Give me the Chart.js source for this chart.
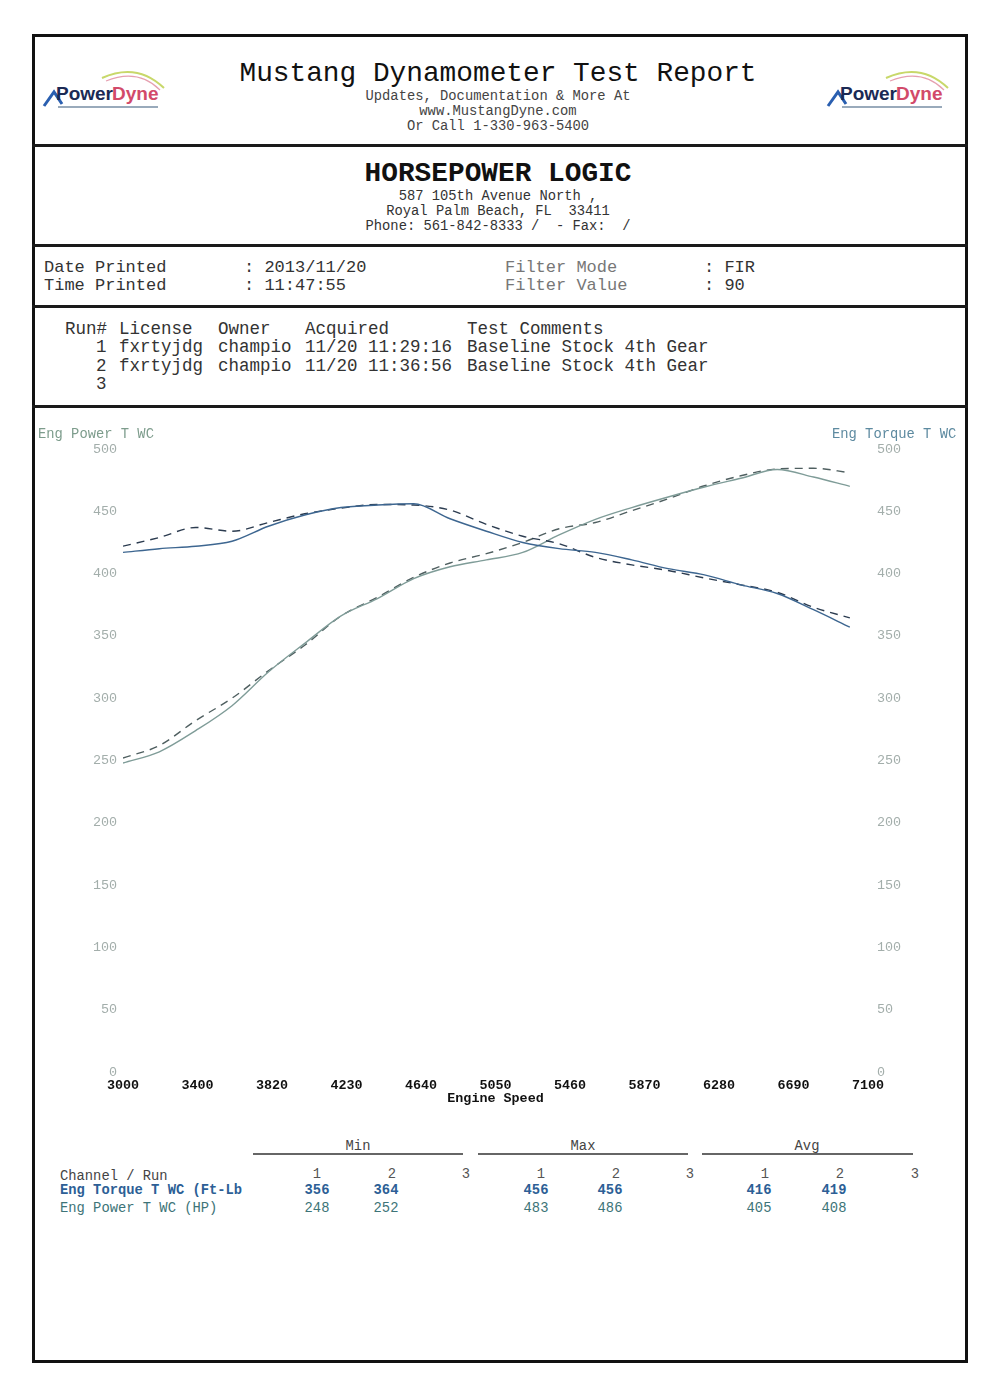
<!DOCTYPE html>
<html>
<head>
<meta charset="utf-8">
<script src="https://cdn.jsdelivr.net/npm/chart.js@4.4.0/dist/chart.umd.min.js"></script>
<style>
  body { margin: 0; background: #fff; }
  #page { position: relative; width: 1000px; height: 1381px; overflow: hidden;
    font-family: "Courier New", "Liberation Mono", monospace; color: #222; }
  .box { position: absolute; left: 32px; top: 34px; width: 930px; height: 1323px;
    border: 3px solid #111; }
  .sep { position: absolute; left: 32px; width: 936px; height: 3px; background: #1a1a1a; }
  .t { position: absolute; white-space: pre; }
  .c { transform: translateX(-50%); }
  .hline { position: absolute; height: 2px; background: #666; }
  #chartWrap { position: absolute; left: 35px; top: 408px; width: 930px; height: 722px; }
</style>
</head>
<body>
<div id="page">
  <div class="box"></div>
  <div class="sep" style="top:144px"></div>
  <div class="sep" style="top:244px"></div>
  <div class="sep" style="top:305px"></div>
  <div class="sep" style="top:405px"></div>

  <!-- logos -->
  <svg class="t" style="left:42px;top:66px" width="130" height="50" viewBox="0 0 130 50">
    <path d="M60 12 Q95 -4 122 22" stroke="#c8d86a" stroke-width="2" fill="none"/>
    <path d="M64 15 Q96 2 118 24" stroke="#e6a0b0" stroke-width="1.2" fill="none"/>
    <path d="M2 40 L12 26 L20 38" stroke="#2a5fb0" stroke-width="3" fill="none"/>
    <text x="14" y="34" font-family="Arial, Liberation Sans, sans-serif" font-weight="bold" font-size="19" fill="#1b2a55">Power</text>
    <text x="70" y="34" font-family="Arial, Liberation Sans, sans-serif" font-weight="bold" font-size="19" fill="#d24a6a">Dyne</text>
    <rect x="16" y="40" width="100" height="2" fill="#9ab"/>
  </svg>
  <svg class="t" style="left:826px;top:66px" width="130" height="50" viewBox="0 0 130 50">
    <path d="M60 12 Q95 -4 122 22" stroke="#c8d86a" stroke-width="2" fill="none"/>
    <path d="M64 15 Q96 2 118 24" stroke="#e6a0b0" stroke-width="1.2" fill="none"/>
    <path d="M2 40 L12 26 L20 38" stroke="#2a5fb0" stroke-width="3" fill="none"/>
    <text x="14" y="34" font-family="Arial, Liberation Sans, sans-serif" font-weight="bold" font-size="19" fill="#1b2a55">Power</text>
    <text x="70" y="34" font-family="Arial, Liberation Sans, sans-serif" font-weight="bold" font-size="19" fill="#d24a6a">Dyne</text>
    <rect x="16" y="40" width="100" height="2" fill="#9ab"/>
  </svg>

  <!-- header -->
  <div class="t c" style="left:498px;top:58px;font-size:27.8px;color:#111">Mustang Dynamometer Test Report</div>
  <div class="t c" style="left:498px;top:89px;font-size:13.8px;color:#444">Updates, Documentation &amp; More At</div>
  <div class="t c" style="left:498px;top:104px;font-size:13.8px;color:#444">www.MustangDyne.com</div>
  <div class="t c" style="left:498px;top:119px;font-size:13.8px;color:#444">Or Call 1-330-963-5400</div>

  <div class="t c" style="left:498px;top:158px;font-size:27.8px;font-weight:bold;color:#111">HORSEPOWER LOGIC</div>
  <div class="t c" style="left:498px;top:189px;font-size:13.8px;color:#333">587 105th Avenue North ,</div>
  <div class="t c" style="left:498px;top:204px;font-size:13.8px;color:#333">Royal Palm Beach, FL  33411</div>
  <div class="t c" style="left:498px;top:219px;font-size:13.8px;color:#333">Phone: 561-842-8333 /  - Fax:  /</div>

  <div class="t" style="left:44px;top:258px;font-size:17px;color:#333">Date Printed</div>
  <div class="t" style="left:44px;top:276px;font-size:17px;color:#333">Time Printed</div>
  <div class="t" style="left:244px;top:258px;font-size:17px;color:#333">: 2013/11/20</div>
  <div class="t" style="left:244px;top:276px;font-size:17px;color:#333">: 11:47:55</div>
  <div class="t" style="left:505px;top:258px;font-size:17px;color:#777">Filter Mode</div>
  <div class="t" style="left:505px;top:276px;font-size:17px;color:#777">Filter Value</div>
  <div class="t" style="left:704px;top:258px;font-size:17px;color:#333">: FIR</div>
  <div class="t" style="left:704px;top:276px;font-size:17px;color:#333">: 90</div>

  <div class="t" style="left:65px;top:319px;font-size:17.5px;color:#333">Run#</div>
  <div class="t" style="left:119px;top:319px;font-size:17.5px;color:#333">License</div>
  <div class="t" style="left:218px;top:319px;font-size:17.5px;color:#333">Owner</div>
  <div class="t" style="left:305px;top:319px;font-size:17.5px;color:#333">Acquired</div>
  <div class="t" style="left:467px;top:319px;font-size:17.5px;color:#333">Test Comments</div>
  <div class="t" style="left:96px;top:337px;font-size:17.5px;color:#333">1</div>
  <div class="t" style="left:119px;top:337px;font-size:17.5px;color:#333">fxrtyjdg</div>
  <div class="t" style="left:218px;top:337px;font-size:17.5px;color:#333">champio</div>
  <div class="t" style="left:305px;top:337px;font-size:17.5px;color:#333">11/20 11:29:16</div>
  <div class="t" style="left:467px;top:337px;font-size:17.5px;color:#333">Baseline Stock 4th Gear</div>
  <div class="t" style="left:96px;top:356px;font-size:17.5px;color:#333">2</div>
  <div class="t" style="left:119px;top:356px;font-size:17.5px;color:#333">fxrtyjdg</div>
  <div class="t" style="left:218px;top:356px;font-size:17.5px;color:#333">champio</div>
  <div class="t" style="left:305px;top:356px;font-size:17.5px;color:#333">11/20 11:36:56</div>
  <div class="t" style="left:467px;top:356px;font-size:17.5px;color:#333">Baseline Stock 4th Gear</div>
  <div class="t" style="left:96px;top:374px;font-size:17.5px;color:#333">3</div>

  <div id="chartWrap"><canvas id="dyno"></canvas></div>

  <div class="t" style="left:38px;top:427px;font-size:13.8px;color:#7d9c8c">Eng Power T WC</div>
  <div class="t" style="left:832px;top:427px;font-size:13.8px;color:#5d8aa0">Eng Torque T WC</div>

  <!-- stats table -->
  <div class="t c" style="left:358px;top:1139px;font-size:13.8px;color:#444">Min</div>
  <div class="t c" style="left:583px;top:1139px;font-size:13.8px;color:#444">Max</div>
  <div class="t c" style="left:807px;top:1139px;font-size:13.8px;color:#444">Avg</div>
  <div class="hline" style="left:253px;top:1153px;width:210px"></div>
  <div class="hline" style="left:478px;top:1153px;width:210px"></div>
  <div class="hline" style="left:702px;top:1153px;width:211px"></div>
  <div id="stats"></div>
</div>

<script>
// engine speed (rpm) sample points
const rpm = [3000, 3200, 3400, 3600, 3800, 4000, 4200, 4400, 4600, 4800, 5000,
  5200, 5400, 5600, 5800, 6000, 6200, 6400, 6600, 6800, 7000];

// run 1 (solid) and run 2 (dashed)
const torqueRun1 = [417, 420, 422, 426, 438, 447, 453, 455, 456, 444, 434,
  425, 420, 417, 411, 404, 399, 391, 384, 371, 357];
const torqueRun2 = [422, 429, 437, 434, 441, 448, 452.5, 455.5, 455, 451, 439.5,
  430, 424, 413, 407, 402.5, 396.5, 391, 385, 373, 364.5];
const powerRun1 = [248, 257, 274, 294, 321, 344, 366, 380, 396, 405.5, 411,
  417, 431, 443.5, 453, 461.5, 469.5, 476.5, 483.5, 477.5, 470];
const powerRun2 = [252, 262, 282, 300, 322, 342.5, 366, 381, 397, 408.5, 416,
  425, 436, 441, 450.5, 460, 470.5, 478.5, 484, 484.5, 481];

const xTickLabels = ['3000', '3400', '3820', '4230', '4640', '5050', '5460',
  '5870', '6280', '6690', '7100'];

// summary table
const runHeaders = ['1', '2', '3', '1', '2', '3', '1', '2', '3'];
const torqueStats = ['356', '364', '', '456', '456', '', '416', '419', ''];
const powerStats = ['248', '252', '', '483', '486', '', '405', '408', ''];

function pts(vals) {
  return vals.map((v, i) => ({ x: rpm[i], y: v }));
}

const mono = '"Courier New", "Liberation Mono", monospace';

new Chart(document.getElementById('dyno'), {
  type: 'line',
  data: {
    datasets: [
      { label: 'Torque 1', data: pts(torqueRun1), yAxisID: 'yT',
        borderColor: '#3d6690', borderWidth: 1.4 },
      { label: 'Torque 2', data: pts(torqueRun2), yAxisID: 'yT',
        borderColor: '#2c3c50', borderWidth: 1.4, borderDash: [8, 6] },
      { label: 'Power 1', data: pts(powerRun1), yAxisID: 'yP',
        borderColor: '#7f9c98', borderWidth: 1.4 },
      { label: 'Power 2', data: pts(powerRun2), yAxisID: 'yP',
        borderColor: '#4f5f60', borderWidth: 1.4, borderDash: [8, 6] },
    ],
  },
  options: {
    responsive: true,
    maintainAspectRatio: false,
    animation: false,
    layout: { padding: { top: 41, left: 0, right: 0, bottom: 0 } },
    elements: {
      point: { radius: 0 },
      line: { tension: 0.4, cubicInterpolationMode: 'monotone', fill: false },
    },
    plugins: { legend: { display: false }, tooltip: { enabled: false } },
    scales: {
      x: {
        type: 'linear',
        min: 3000,
        max: 7100,
        grid: { display: false, drawTicks: false },
        border: { display: false },
        ticks: {
          stepSize: 410,
          autoSkip: false,
          maxRotation: 0,
          padding: 6,
          color: '#111',
          font: { family: mono, size: 13.4, weight: 'bold' },
          callback: (v, i) => xTickLabels[i],
        },
        title: {
          display: true,
          text: 'Engine Speed',
          color: '#111',
          font: { family: mono, size: 13.4, weight: 'bold' },
          padding: { top: 0, bottom: 23 },
        },
        afterFit: (s) => { s.height = 58; },
      },
      yP: {
        position: 'left',
        min: 0,
        max: 500,
        grid: { display: false, drawTicks: false },
        border: { display: false },
        ticks: { stepSize: 50, padding: 6, color: '#a3aeab',
          font: { family: mono, size: 13.4 } },
        afterFit: (s) => { s.width = 88; },
      },
      yT: {
        position: 'right',
        min: 0,
        max: 500,
        grid: { display: false, drawTicks: false },
        border: { display: false },
        ticks: { stepSize: 50, padding: 9, color: '#a3aeab',
          font: { family: mono, size: 13.4 } },
        afterFit: (s) => { s.width = 97; },
      },
    },
  },
});

// summary table text
const stats = document.getElementById('stats');
const colX = [317, 392, 466, 541, 616, 690, 765, 840, 915];
const valX = [317, 386, 466, 536, 610, 690, 759, 834, 915];
function addText(txt, x, y, style) {
  const d = document.createElement('div');
  d.className = 't' + (style.center ? ' c' : '');
  d.textContent = txt;
  d.style.left = x + 'px';
  d.style.top = y + 'px';
  d.style.fontSize = '13.8px';
  d.style.color = style.color;
  if (style.bold) d.style.fontWeight = 'bold';
  stats.appendChild(d);
}
addText('Channel / Run', 60, 1169, { color: '#444' });
runHeaders.forEach((h, i) => addText(h, colX[i], 1167, { color: '#555', center: true }));
addText('Eng Torque T WC (Ft-Lb', 60, 1183, { color: '#2d5f96', bold: true });
torqueStats.forEach((v, i) => v && addText(v, valX[i], 1183, { color: '#2d5f96', bold: true, center: true }));
addText('Eng Power T WC (HP)', 60, 1201, { color: '#3d7478' });
powerStats.forEach((v, i) => v && addText(v, valX[i], 1201, { color: '#3d7478', center: true }));
</script>
</body>
</html>
